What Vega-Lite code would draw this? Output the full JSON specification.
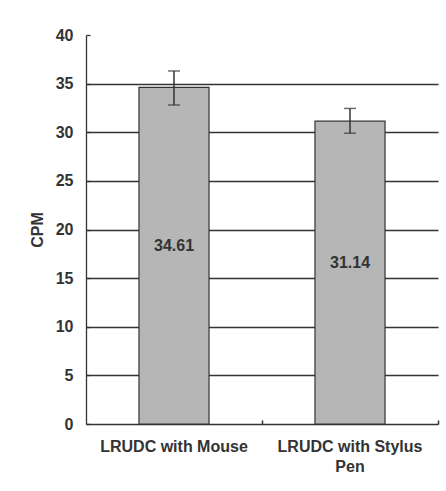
{
  "$schema": "https://vega.github.io/schema/vega-lite/v6.json",
  "autosize": "none",
  "width": 352,
  "height": 389,
  "padding": {"left": 86, "top": 35, "right": 8, "bottom": 67},
  "background": "#ffffff",
  "config": {
    "view": {"stroke": null},
    "font": "Liberation Sans",
    "axis": {
      "labelFont": "Liberation Sans",
      "labelFontWeight": "bold",
      "labelFontSize": 16,
      "labelColor": "#333333",
      "titleFont": "Liberation Sans",
      "titleFontWeight": "bold",
      "titleFontSize": 16,
      "titleColor": "#333333",
      "domainColor": "#333333",
      "domainWidth": 1.3,
      "tickColor": "#333333",
      "tickWidth": 1.3
    }
  },
  "data": {
    "values": [
      {"condition": "LRUDC with Mouse", "CPM": 34.61, "lower": 32.8, "upper": 36.3},
      {"condition": "LRUDC with Stylus Pen", "CPM": 31.14, "lower": 29.9, "upper": 32.45}
    ]
  },
  "encoding": {
    "x": {
      "field": "condition",
      "type": "nominal",
      "sort": null,
      "scale": {"paddingInner": 0.602, "paddingOuter": 0.301},
      "axis": {
        "title": null,
        "labelAngle": 0,
        "tickSize": -4,
        "tickWidth": 1.5,
        "bandPosition": 1.77,
        "labelPadding": 18,
        "labelLineHeight": 20,
        "labelExpr": "datum.label == 'LRUDC with Stylus Pen' ? ['LRUDC with Stylus', 'Pen'] : datum.label"
      }
    }
  },
  "layer": [
    {
      "mark": {"type": "bar", "fill": "#b6b6b6", "stroke": "#333333", "strokeWidth": 1.2},
      "encoding": {
        "y": {
          "field": "CPM",
          "type": "quantitative",
          "scale": {"domain": [0, 40], "nice": false},
          "axis": {
            "title": "CPM",
            "titlePadding": 10,
            "values": [0, 5, 10, 15, 20, 25, 30, 35, 40],
            "tickSize": -4,
            "labelPadding": 17,
            "grid": true,
            "gridColor": "#333333",
            "gridWidth": 1.3,
            "gridOpacity": {"condition": {"test": "datum.value == 40 || datum.value == 0", "value": 0}, "value": 1}
          }
        }
      }
    },
    {
      "mark": {"type": "rule", "color": "#333333", "strokeWidth": 1.5},
      "encoding": {
        "y": {"field": "lower", "type": "quantitative"},
        "y2": {"field": "upper"}
      }
    },
    {
      "mark": {"type": "tick", "color": "#333333", "size": 12, "thickness": 1.5, "orient": "horizontal"},
      "encoding": {"y": {"field": "lower", "type": "quantitative"}}
    },
    {
      "mark": {"type": "tick", "color": "#333333", "size": 12, "thickness": 1.5, "orient": "horizontal"},
      "encoding": {"y": {"field": "upper", "type": "quantitative"}}
    },
    {
      "transform": [{"calculate": "datum.CPM / 2", "as": "mid"}],
      "mark": {"type": "text", "font": "Liberation Sans", "fontWeight": "bold", "fontSize": 16, "color": "#333333", "dy": -10},
      "encoding": {
        "y": {"field": "mid", "type": "quantitative"},
        "text": {"field": "CPM", "type": "quantitative", "format": ".2f"}
      }
    }
  ]
}
